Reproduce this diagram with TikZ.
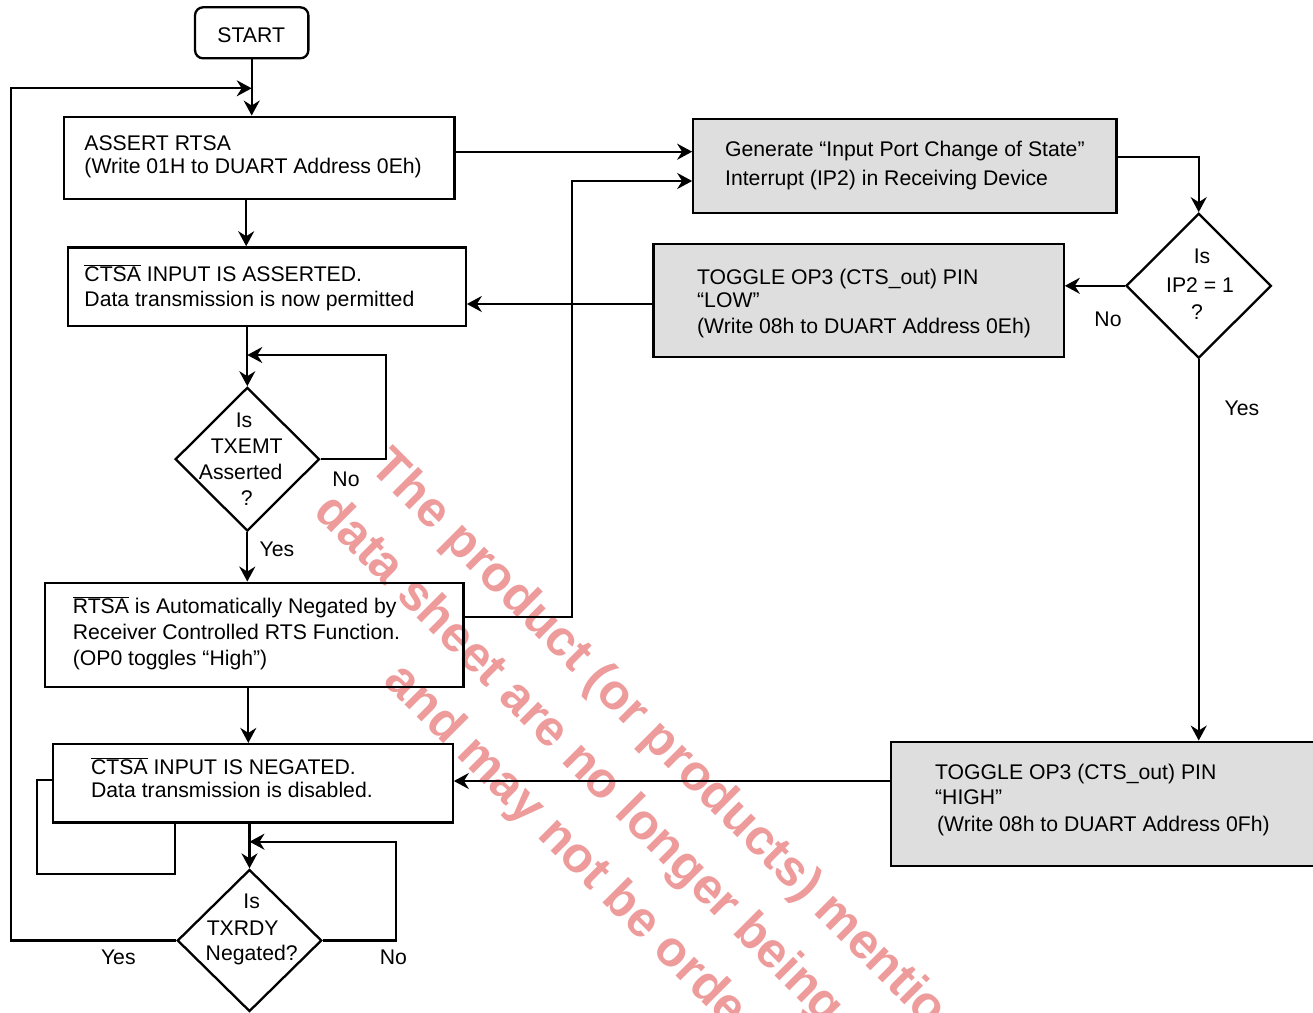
\documentclass[tikz,border=0pt]{standalone}
\usepackage{fontspec}
\setmainfont{Liberation Sans}
\usetikzlibrary{shapes.geometric,arrows.meta}
\definecolor{boxgray}{RGB}{222,222,222}
\definecolor{wmred}{RGB}{238,155,155}
\newcommand\ovl[1]{$\overline{\mbox{#1}}$}
\begin{document}
\begin{tikzpicture}[x=1pt,y=-1pt,line width=2.3pt,
  arr/.style={-{Stealth[length=15pt,width=16pt,inset=5pt]}},
  box/.style={draw,rectangle,inner sep=0pt},
  gbox/.style={box,fill=boxgray},
  dia/.style={draw,diamond,inner sep=0pt},
  txt/.style={inner sep=0pt,anchor=base west,font=\fontsize{21.2}{25}\selectfont},
  ctxt/.style={txt,anchor=base},
  wm/.style={inner sep=0pt,anchor=base west,rotate=-45,text=wmred,font=\fontsize{50}{60}\bfseries\selectfont}
]
\useasboundingbox (0,0) rectangle (1313,1012);
\clip (0,0) rectangle (1313,1012);
\fill[white] (0,0) rectangle (1313,1012);

% watermark
\node[wm] (wm1) at (368,468) {The product (or products) mentio};
\node[wm] (wm2) at (312,513) {data sheet are no longer being};
\node[wm] (wm3) at (382,682) {and may not be orde};

% boxes
\node[box,rounded corners=8pt,minimum width=113.3pt,minimum height=51pt] (start) at (251.7,32.8) {};
\node[box,minimum width=390.3pt,minimum height=82.6pt] (assert) at (259.2,158) {};
\node[box,minimum width=397.4pt,minimum height=78.7pt] (ctsaa) at (267,286.7) {};
\node[gbox,minimum width=423.2pt,minimum height=93.7pt] (gen) at (904.9,165.9) {};
\node[gbox,minimum width=410.3pt,minimum height=112.7pt] (low) at (858.5,300.4) {};
\node[box,minimum width=418.3pt,minimum height=104.6pt] (rtsa) at (254.2,635) {};
\node[box,minimum width=399.4pt,minimum height=78.3pt] (ctsan) at (253,783.2) {};
\node[gbox,minimum width=439.3pt,minimum height=124pt] (high) at (1110.4,803.7) {};
\node[dia,minimum width=144.3pt,minimum height=143.7pt] (txemt) at (247.3,459.2) {};
\node[dia,minimum width=145.3pt,minimum height=145pt] (ip2) at (1198.7,285.8) {};
\node[dia,minimum width=144.4pt,minimum height=142pt] (txrdy) at (249.5,940.5) {};

% texts
\node[ctxt] (tstart) at (251.2,42.3) {START};
\node[txt] (ta1) at (83.3,150.7) {ASSERT RTSA};
\node[txt] (ta2) at (83.3,173.3) {(Write 01H to DUART Address 0Eh)};
\node[txt] (tb1) at (83.3,281) {\ovl{CTSA} INPUT IS ASSERTED.};
\node[txt] (tb2) at (83.3,306.7) {Data transmission is now permitted};
\node[txt] (tg1) at (724,156) {Generate “Input Port Change of State”};
\node[txt] (tg2) at (724,185.7) {Interrupt (IP2) in Receiving Device};
\node[txt] (tl1) at (696,284) {TOGGLE OP3 (CTS\_out) PIN};
\node[txt] (tl2) at (696,307) {“LOW”};
\node[txt] (tl3) at (696,333.5) {(Write 08h to DUART Address 0Eh)};
\node[txt] (tr1) at (71.7,613.3) {\ovl{RTSA} is Automatically Negated by};
\node[txt] (tr2) at (71.7,639.3) {Receiver Controlled RTS Function.};
\node[txt] (tr3) at (71.7,665.5) {(OP0 toggles “High”)};
\node[txt] (tn1) at (90,774) {\ovl{CTSA} INPUT IS NEGATED.};
\node[txt] (tn2) at (90,797.7) {Data transmission is disabled.};
\node[txt] (th1) at (934,779) {TOGGLE OP3 (CTS\_out) PIN};
\node[txt] (th2) at (934,804) {“HIGH”};
\node[txt] (th3) at (936,831) {(Write 08h to DUART Address 0Fh)};
\node[ctxt] (te1) at (244,427.3) {Is};
\node[ctxt] (te2) at (246.7,453.3) {TXEMT};
\node[ctxt] (te3) at (240.7,479) {Asserted};
\node[ctxt] (te4) at (246.7,505) {?};
\node[ctxt] (ti1) at (1202,263) {Is};
\node[ctxt] (ti2) at (1200,292) {IP2 = 1};
\node[ctxt] (ti3) at (1197,319) {?};
\node[ctxt] (tx1) at (251.7,908.3) {Is};
\node[ctxt] (tx2) at (242.7,935) {TXRDY};
\node[ctxt] (tx3) at (251.7,960) {Negated?};
% labels
\node[ctxt] (lno1) at (346,486) {No};
\node[ctxt] (lyes1) at (277,556) {Yes};
\node[ctxt] (lno2) at (1108,326) {No};
\node[ctxt] (lyes2) at (1242,415) {Yes};
\node[ctxt] (lyes3) at (118.3,964.3) {Yes};
\node[ctxt] (lno3) at (393.3,964.3) {No};

% coordinates
\coordinate (yesL) at (10.7,88.3);
\coordinate (c1) at (571.7,181);
\coordinate (c2) at (385.7,355);
\coordinate (c3) at (36.7,874);
\coordinate (c4) at (395.7,841.7);

% connectors
\draw[arr] (start.south) -- (start.south |- assert.north);
\draw[arr] (txrdy.west) -| (yesL) -- (start.south |- yesL);
\draw[arr] (assert.south -| 246.2,0) -- (ctsaa.north -| 246.2,0);
\draw[arr] (assert.east |- 0,151.7) -- (gen.west |- 0,151.7);
\draw[arr] (rtsa.east |- 0,617.3) -| (c1) -- (gen.west |- c1);
\draw[arr] (gen.east |- 0,156.7) -| (ip2.north);
\draw[arr] (ip2.west) -- (ip2.west -| low.east);
\draw[arr] (low.west |- 0,304) -- (ctsaa.east |- 0,304);
\draw[arr] (ip2.south) -- (ip2.south |- high.north);
\draw[arr] (high.west |- 0,781) -- (ctsan.east |- 0,781);
\draw[arr] (ctsaa.south -| txemt.north) -- (txemt.north);
\draw[arr] (txemt.east) -| (c2) -- (txemt.north |- c2);
\draw[arr] (txemt.south) -- (txemt.south |- rtsa.north);
\draw[arr] (rtsa.south -| 248.3,0) -- (ctsan.north -| 248.3,0);
\draw (ctsan.west |- 0,780) -| (c3) -| (ctsan.south -| 175,0);
\draw[arr] (ctsan.south -| txrdy.north) -- (txrdy.north);
\draw[arr] (txrdy.east) -| (c4) -- (txrdy.north |- c4);
\end{tikzpicture}
\end{document}
